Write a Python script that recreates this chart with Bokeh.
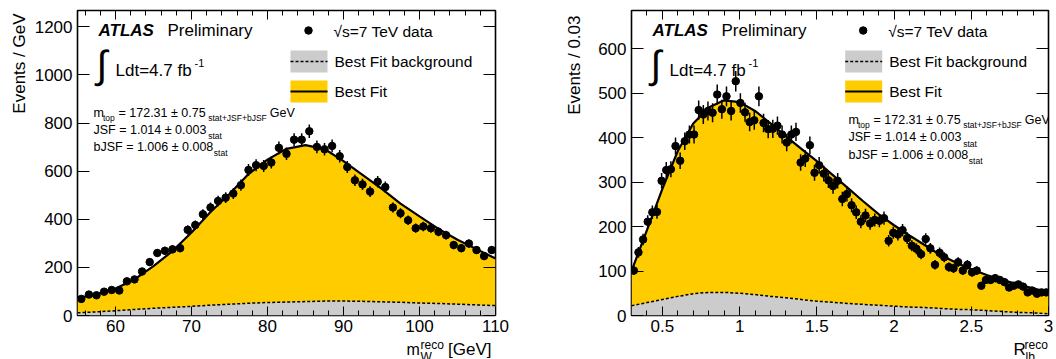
import numpy as np
from bokeh.plotting import figure
from bokeh.layouts import row, column
from bokeh.models import Label, LinearAxis, FixedTicker, CustomJSTickFormatter
from bokeh.embed import file_html
from bokeh.resources import INLINE

# ---------------- data: left panel (m_W reco) ----------------
mw_bin_start = 55.0
mw_bin_width = 1.0
mw_counts = [69, 87, 84, 99, 106, 104, 142, 150, 183, 222, 260, 269, 275, 280, 356, 376, 421, 449, 476, 490, 507, 542,
             605, 625, 622, 636, 697, 672, 731, 731, 766, 701, 691, 705, 662, 617,
             562, 545, 515, 556, 534, 449, 425, 396, 363, 370, 363, 348, 334, 293, 280, 299, 272, 247, 272]
mw_curve_x = [55, 57.5, 60, 62.5, 65, 67.5, 70, 72.5, 75, 77.5, 80, 82.5, 85, 87.5, 90, 92.5, 95, 97.5,
              100, 102.5, 105, 107.5, 110]
mw_fit = [72, 88, 112, 150, 205, 268, 345, 430, 505, 588, 648, 693, 708, 692, 642, 585, 527, 465,
          412, 360, 315, 276, 237]
mw_bkg = [11, 15, 20, 25, 30, 34, 38, 43, 47, 51, 54, 56, 58, 60, 60, 59, 57, 55, 52, 50, 47, 44, 41]
mw_xticks = [60, 70, 80, 90, 100, 110]
mw_xminor = [56, 58, 62, 64, 66, 68, 72, 74, 76, 78, 82, 84, 86, 88, 92, 94, 96, 98, 102, 104, 106, 108]
mw_yticks = [0, 200, 400, 600, 800, 1000, 1200]

# ---------------- data: right panel (R_lb reco) ----------------
rlb_bin_start = 0.3
rlb_bin_width = 0.03
rlb_counts = [101, 142, 171, 211, 232, 233, 303, 327, 329, 381, 348, 392, 407, 407, 462, 452, 460, 456, 497, 464,
              493, 460, 527, 478, 457, 435, 439, 493,
              433, 419, 420, 427, 407, 389, 407, 413, 344, 353, 383, 321, 338, 319, 304, 291, 303, 262, 273, 248,
              232, 211, 225, 207, 215, 213, 219, 168, 186, 182, 192, 174, 157, 150, 138, 172, 151, 114, 141, 131,
              109, 106,
              120, 101, 114, 97, 101, 67, 80, 80, 84, 80, 75, 63, 67, 70, 65, 52, 56, 49, 52, 52]
rlb_curve_x = [0.3, 0.4, 0.5, 0.6, 0.7, 0.8, 0.9, 1.0, 1.1, 1.2, 1.3, 1.4, 1.5, 1.6, 1.7, 1.8, 1.9, 2.0,
               2.1, 2.2, 2.3, 2.4, 2.5, 2.6, 2.7, 2.8, 2.9, 3.0]
rlb_fit = [100, 192, 285, 370, 432, 468, 484, 480, 460, 432, 403, 375, 347, 317, 287, 257, 228, 203,
           180, 158, 136, 119, 104, 91, 80, 70, 61, 52]
rlb_bkg = [22, 29, 36, 43, 49, 52, 52, 50, 47, 43, 40, 36, 32, 30, 27, 25, 23, 21, 19, 18, 16, 14, 13, 11, 9, 7, 6, 4]
rlb_xticks = [0.5, 1.0, 1.5, 2.0, 2.5, 3.0]
rlb_xminor = [0.4, 0.6, 0.7, 0.8, 0.9, 1.1, 1.2, 1.3, 1.4, 1.6, 1.7, 1.8, 1.9, 2.1, 2.2, 2.3, 2.4, 2.6, 2.7, 2.8, 2.9]
rlb_yticks = [0, 100, 200, 300, 400, 500, 600]

FONT = "Liberation Sans"
YELLOW = "#ffcc00"
GREY = "#cccccc"
PW, PH = 528, 359      # one panel
FT, FB = 10, 315       # frame top / bottom in page pixels
MAIN_H = 341           # main figure height; x-title strip below it
MID = 0.35             # distance baseline -> text middle, in em


def text_label(fig, x, y, text, size, style="normal", align="left", angle=0.0):
    fig.add_layout(Label(x=x, y=y, x_units="screen", y_units="screen", text=text,
                         text_font=FONT, text_font_size=f"{size}px", text_font_style=style,
                         text_align=align, text_baseline="middle", angle=angle, text_color="black"))


def strip(w, h, bl, br, bt, bb):
    s = figure(width=w, height=h, x_range=(0, 1), y_range=(0, 1), output_backend="svg", toolbar_location=None,
               x_axis_location=None, y_axis_location=None,
               min_border_left=bl, min_border_right=br, min_border_top=bt, min_border_bottom=bb)
    s.outline_line_color = None
    s.grid.visible = False
    s.background_fill_color = "white"
    s.border_fill_color = "white"
    return s


def build(xr, yr, ws, fl, fr, counts, bin_start, bin_width, cx, fit, bkg, xticks, xminor, yticks, cfg):
    # ws: width of the y-title strip; fl/fr: frame left/right in panel pixels
    p = figure(width=PW - ws, height=MAIN_H, x_range=xr, y_range=yr, output_backend="svg", toolbar_location=None,
               min_border_left=fl - ws, min_border_right=PW - fr, min_border_top=FT, min_border_bottom=MAIN_H - FB)
    p.background_fill_color = "white"
    p.border_fill_color = "white"
    p.outline_line_color = "black"
    p.outline_line_width = 1.6
    p.grid.visible = False

    def px2x(px):
        return xr[0] + (px - fl) / (fr - fl) * (xr[1] - xr[0])

    def py2y(py):
        return yr[0] + (FB - py) / (FB - FT) * (yr[1] - yr[0])

    # fills and curves
    p.varea(x=cx, y1=[0] * len(cx), y2=bkg, fill_color=GREY)
    p.varea(x=cx, y1=bkg, y2=fit, fill_color=YELLOW)
    p.line(cx, bkg, line_color="black", line_width=1.5, line_dash="3 2")
    p.line(cx, fit, line_color="black", line_width=2.2)

    # data
    c = np.array(counts, dtype=float)
    centers = bin_start + (np.arange(len(c)) + 0.5) * bin_width
    err = np.sqrt(c)
    p.segment(centers, c - err, centers, c + err, line_color="black", line_width=1.5)
    p.scatter(centers, c, size=7.5, color="black")

    # axes
    xf = CustomJSTickFormatter(code="return tick.toString();")
    for ax in p.xaxis:
        ax.ticker = FixedTicker(ticks=xticks, minor_ticks=xminor)
        ax.formatter = xf
    for ax in p.yaxis:
        ax.ticker = FixedTicker(ticks=yticks, minor_ticks=[])
    p.xaxis.major_tick_in = 9
    p.xaxis.minor_tick_in = 5
    p.yaxis.major_tick_in = 12
    for ax in list(p.xaxis) + list(p.yaxis):
        ax.major_tick_out = 0
        ax.minor_tick_out = 0
        ax.axis_line_color = None
        ax.major_tick_line_color = "black"
        ax.minor_tick_line_color = "black"
        ax.major_label_text_font = FONT
        ax.major_label_text_font_size = "17px"
        ax.major_label_text_color = "black"
    p.xaxis.major_label_standoff = 4
    p.yaxis.major_label_standoff = 5

    top = LinearAxis(ticker=FixedTicker(ticks=xticks, minor_ticks=xminor), major_label_text_font_size="1px",
                     major_label_text_color=None, major_label_standoff=0, axis_line_color=None,
                     major_tick_in=9, major_tick_out=0, minor_tick_in=5, minor_tick_out=0)
    right = LinearAxis(ticker=FixedTicker(ticks=yticks, minor_ticks=[]), major_label_text_font_size="1px",
                       major_label_text_color=None, major_label_standoff=0, axis_line_color=None,
                       major_tick_in=12, major_tick_out=0, minor_tick_in=0, minor_tick_out=0)
    p.add_layout(top, "above")
    p.add_layout(right, "right")

    def lab(px, py, text, size, style="normal"):
        # py is the text baseline in page pixels
        text_label(p, px - fl, FB - (py - MID * size), text, size, style=style)

    # header
    ax0 = cfg["atlas_x"]
    lab(ax0, 36, "ATLAS", 17, style="bold italic")
    lab(ax0 + 69, 36, "Preliminary", 17)
    text_label(p, ax0 - 2 - fl, FB - 64, "\u222b", 39)
    lab(ax0 + 17, 76, "Ldt=4.7 fb", 17)
    lab(ax0 + 96, 66, "-1", 11)

    # legend
    lg = cfg["leg_x"]
    p.scatter([px2x(lg + 18)], [py2y(30)], size=7.5, color="black")
    lab(lg + 43, 36, "\u221as=7 TeV data", 15.5)
    p.quad(left=[px2x(lg)], right=[px2x(lg + 37)], top=[py2y(50)], bottom=[py2y(72)], fill_color=GREY, line_color=None)
    p.segment([px2x(lg)], [py2y(61)], [px2x(lg + 37)], [py2y(61)], line_color="black", line_width=1.5, line_dash="3 2")
    lab(lg + 44, 66.5, "Best Fit background", 15.5)
    p.quad(left=[px2x(lg)], right=[px2x(lg + 37)], top=[py2y(80)], bottom=[py2y(102)], fill_color=YELLOW, line_color=None)
    p.segment([px2x(lg)], [py2y(91)], [px2x(lg + 37)], [py2y(91)], line_color="black", line_width=2)
    lab(lg + 44, 96.5, "Best Fit", 15.5)

    # fit parameters
    x0, y0, dy = cfg["par_x"], cfg["par_y"], cfg["par_dy"]
    fs, ss = 12.5, 8.5
    lab(x0, y0, "m", fs)
    lab(x0 + 9.5, y0 + 3.5, "top", ss)
    lab(x0 + 25, y0, "= 172.31 \u00b1 0.75", fs)
    lab(x0 + 114.7, y0 + 3.5, "stat+JSF+bJSF", ss)
    lab(x0 + 176.3, y0, "GeV", fs)
    lab(x0, y0 + dy, "JSF = 1.014 \u00b1 0.003", fs)
    lab(x0 + 114.7, y0 + dy + 5, "stat", ss)
    lab(x0, y0 + 2 * dy, "bJSF = 1.006 \u00b1 0.008", fs)
    lab(x0 + 120.3, y0 + 2 * dy + 4.5, "stat", ss)

    # y title strip (left of the main figure); its frame spans page y FT..FB and x 0..ws
    ys = strip(ws, PH, 0, 0, FT, PH - FB)
    text_label(ys, cfg["ylab_x"], FB - cfg["ylab_top"], cfg["ylab"], 17, align="right", angle=np.pi / 2)

    # x title strip (below the main figure); its frame spans page x fl..fr
    xs = strip(PW - ws, PH - MAIN_H, fl - ws, PW - fr, 0, 0)
    for (tx, ty, tt, tsz) in cfg["xlab"]:
        text_label(xs, tx - fl, PH - (ty - MID * tsz), tt, tsz)

    return row(ys, column(p, xs))


cfg_left = dict(atlas_x=98, leg_x=290, par_x=93, par_y=117, par_dy=16.8,
                ylab_x=19, ylab_top=13, ylab="Events / GeV",
                xlab=[(406, 355, "m", 16), (420, 348.3, "reco", 12), (420, 361, "W", 12),
                      (447.5, 355, "[GeV]", 17)])
cfg_right = dict(atlas_x=124, leg_x=316.7, par_x=320, par_y=124, par_dy=17.3,
                 ylab_x=45.7, ylab_top=15, ylab="Events / 0.03",
                 xlab=[(485, 355, "R", 17), (496, 348.3, "reco", 12), (497, 361, "lb", 12)])

panel1 = build((55, 110), (0, 1268), 30, 77, 495, mw_counts, mw_bin_start, mw_bin_width, mw_curve_x, mw_fit, mw_bkg,
               mw_xticks, mw_xminor, mw_yticks, cfg_left)
panel2 = build((0.3, 3.0), (0, 686), 60, 103, 520, rlb_counts, rlb_bin_start, rlb_bin_width, rlb_curve_x, rlb_fit,
               rlb_bkg, rlb_xticks, rlb_xminor, rlb_yticks, cfg_right)

layout = row(panel1, panel2)
open("out.html", "w").write(file_html(layout, INLINE))
